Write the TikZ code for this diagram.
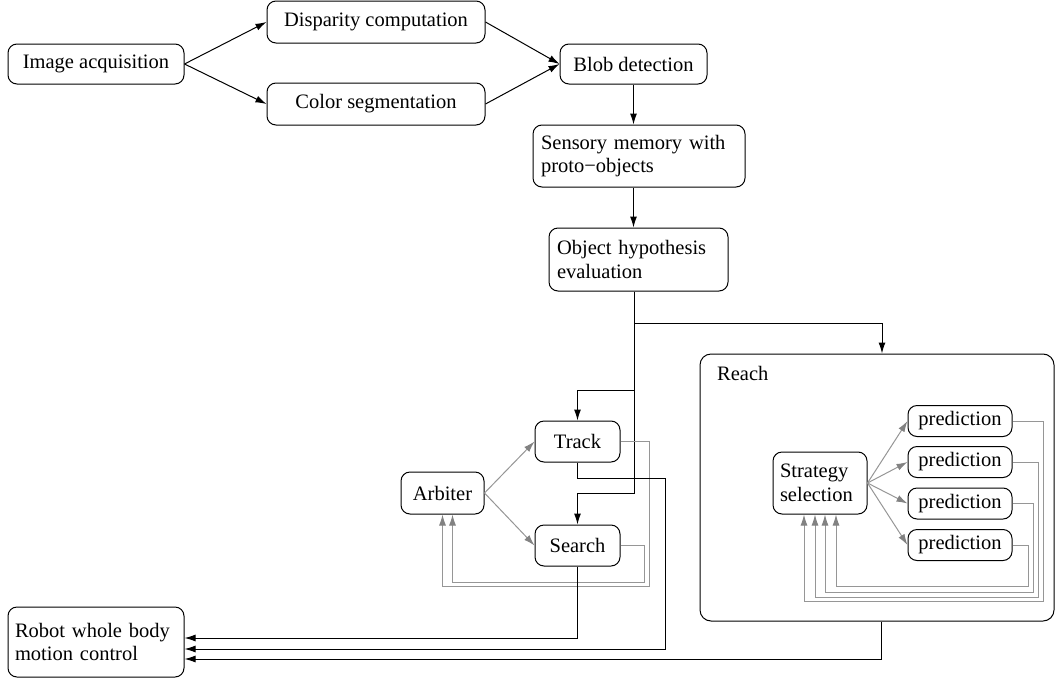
\documentclass[tikz,border=0pt]{standalone}
\usepackage{fontspec}
\newfontfamily\tfont{LiberationSerif-Regular.ttf}
\usetikzlibrary{arrows.meta,calc}
\definecolor{gline}{RGB}{150,150,150}
\definecolor{garrow}{RGB}{130,130,130}
\begin{document}
\begin{tikzpicture}[x=1pt,y=-1pt,
  box/.style={draw, rounded corners=9pt, line width=1pt, inner sep=0pt, font=\tfont\fontsize{20.5}{23.5}\selectfont},
  arr/.style={-{Latex[length=11pt,width=7pt]}, line width=1pt},
  garr/.style={-{Latex[length=11pt,width=7pt,fill=garrow,color=garrow]}, line width=1pt, draw=gline},
  lbl/.style={font=\tfont\fontsize{20.5}{23.5}\selectfont, inner sep=0pt}]
\useasboundingbox (0,0) rectangle (1056,680);

\node[box, minimum width=176pt, minimum height=40pt] (img) at (96,64) {Image acquisition};
\node[box, minimum width=218pt, minimum height=42pt] (disp) at (376,22) {Disparity computation};
\node[box, minimum width=218pt, minimum height=42pt] (col) at (376,104) {Color segmentation};
\node[box, minimum width=147pt, minimum height=40pt] (blob) at (633.5,64) {Blob detection};
\node[box, minimum width=212pt, minimum height=62pt, text width=196pt, align=left] (sens) at (639,156) {Sensory memory with\\proto−objects};
\node[box, minimum width=179pt, minimum height=63pt, text width=163pt, align=left] (obj) at (638.5,259.5) {Object hypothesis\\evaluation};
\node[box, rounded corners=11pt, minimum width=354pt, minimum height=267pt] (reach) at (877,487.5) {};
\node[lbl, anchor=west] (reachlbl) at (717,373) {Reach};
\node[box, minimum width=85pt, minimum height=41pt] (track) at (577.5,441.5) {Track};
\node[box, minimum width=85pt, minimum height=41pt] (search) at (577.5,545.5) {Search};
\node[box, minimum width=83pt, minimum height=42pt] (arb) at (442.5,493) {Arbiter};
\node[box, minimum width=94pt, minimum height=62pt, text width=80pt, align=left] (strat) at (820,483) {Strategy\\selection};
\node[box, minimum width=104pt, minimum height=31pt] (p1) at (960,421) {prediction};
\node[box, minimum width=104pt, minimum height=31pt] (p2) at (960,462) {prediction};
\node[box, minimum width=104pt, minimum height=31pt] (p3) at (960,503.5) {prediction};
\node[box, minimum width=104pt, minimum height=31pt] (p4) at (960,545) {prediction};
\node[box, minimum width=176pt, minimum height=70pt, text width=162pt, align=left] (robot) at (96,642) {Robot whole body\\motion control};

% top chain
\draw[arr] (img.east) -- (disp.west);
\draw[arr] (img.east) -- (col.west);
\draw[arr] (disp.east) -- (blob.west);
\draw[arr] (col.east) -- (blob.west);
\draw[arr] (blob.south) -- (blob.south |- sens.north);
\draw[arr] (sens.south -| blob.south) -- (obj.north -| blob.south);

% from object hypothesis
\coordinate (ob) at ($(obj.south)+(-4.5,0)$);
\draw[arr] (ob) -- (634,323) -| ([xshift=5pt]reach.north);
\draw[arr] (ob) -- (634,390) -| (track.north);
\draw[arr] (ob) -- (634,493) -| (search.north);

% arbiter
\draw[garr] (arb.east) -- (track.west);
\draw[garr] (arb.east) -- (search.west);
\draw[garr] (track.east) -| (649,586) -| (arb.south);
\draw[garr] (search.east) -| (644,582) -| ([xshift=10pt]arb.south);

% strategy
\foreach \p in {p1,p2,p3,p4} {\draw[garr] (strat.east) -- (\p.west);}
\draw[garr] (p1.east) -| (1043,601) -| ([xshift=-16pt]strat.south);
\draw[garr] (p2.east) -| (1038,597) -| ([xshift=-5pt]strat.south);
\draw[garr] (p3.east) -| (1033,592) -| ([xshift=5pt]strat.south);
\draw[garr] (p4.east) -| (1028,586) -| ([xshift=16pt]strat.south);

% to robot
\draw[arr] (search.south) |- ($(robot.east)+(0,-4)$);
\draw[arr] (track.south) |- (665,478) |- ($(robot.east)+(0,7)$);
\draw[arr] ([xshift=4pt]reach.south) |- ($(robot.east)+(0,17)$);
\end{tikzpicture}
\end{document}
